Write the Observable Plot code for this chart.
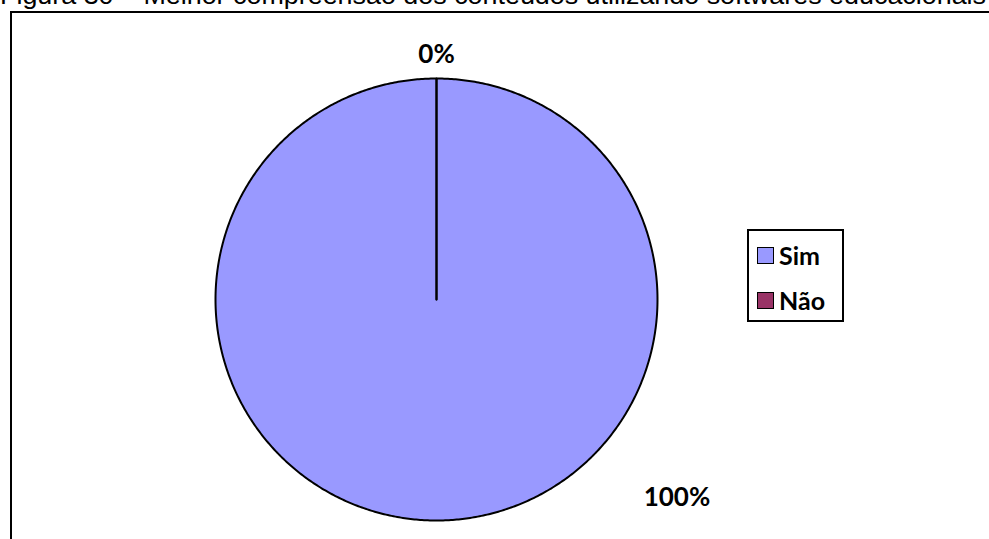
<!DOCTYPE html>
<html>
<head>
<meta charset="utf-8">
<script src="https://cdn.jsdelivr.net/npm/d3@7"></script>
<script src="https://cdn.jsdelivr.net/npm/@observablehq/plot@0.6"></script>
<style>
  html, body { margin: 0; padding: 0; background: #fff; overflow: hidden; }
  #wrap { position: relative; width: 989px; height: 539px; overflow: hidden; }
  #title { position: absolute; left: 0; top: -19px; font-family: "Liberation Sans", Arial, sans-serif; font-size: 25px; white-space: nowrap; color: #000; transform: scaleX(1.075); transform-origin: 0 0; }
  #frame { position: absolute; left: 10px; top: 11px; width: 1100px; height: 700px; border: 2px solid #000; box-sizing: border-box; }
  #chart { position: absolute; left: 0; top: 0; }
  #legend { position: absolute; left: 747px; top: 229px; width: 97px; height: 93px; border: 2px solid #000; box-sizing: border-box; background: #fff;
    font-family: Lato, "Open Sans", sans-serif; font-weight: bold; font-size: 25px; }
  .item { position: absolute; left: 8px; display: flex; align-items: center; height: 24px; }
  .sw { width: 15px; height: 15px; border: 1.5px solid #000; margin-right: 5px; }
</style>
</head>
<body>
<div id="wrap">
  <div id="title">Figura 30 – Melhor compreensão dos conteúdos utilizando softwares educacionais</div>
  <div id="frame"></div>
  <div id="chart"></div>
  <div id="legend"></div>
</div>
<script>
const categories = ["Sim", "Não"];
const values = [100, 0];
const labels = ["100%", "0%"];
const colors = ["#9999FF", "#993366"];

// layout
const W = 989, H = 539, cx = 436, cy = 299, R = 221;
const labelPlacement = { "Sim": { angle: 129.5, radius: 1.41 }, "Não": { angle: 0, radius: 1.11 } };

const slices = d3.pie().sort(null).value(d => d.value)(categories.map((c, i) => ({ category: c, value: values[i], label: labels[i], color: colors[i] })));

const pts = [];
for (const s of slices) {
  pts.push({ category: s.data.category, x: 0, y: 0 });
  const n = Math.max(1, Math.ceil((s.endAngle - s.startAngle) / (Math.PI / 360)));
  for (let k = 0; k <= n; k++) {
    const a = s.startAngle + (s.endAngle - s.startAngle) * k / n;
    pts.push({ category: s.data.category, x: Math.sin(a), y: Math.cos(a) });
  }
}
const labelData = slices.map(s => {
  const p = labelPlacement[s.data.category];
  const a = p.angle * Math.PI / 180;
  return { text: s.data.label, x: p.radius * Math.sin(a), y: p.radius * Math.cos(a) };
});

const plot = Plot.plot({
  width: W, height: H,
  margin: 0,
  x: { domain: [-1, 1], range: [cx - R, cx + R], axis: null },
  y: { domain: [-1, 1], range: [cy + R, cy - R], axis: null },
  style: { background: "transparent", overflow: "visible" },
  marks: categories.map((c, i) =>
    Plot.line(pts.filter(d => d.category === c), { x: "x", y: "y", curve: "linear-closed", fill: colors[i], stroke: "#000", strokeWidth: 2 })
  ).concat([
    Plot.text(labelData, { x: "x", y: "y", text: "text", fontFamily: "Lato, sans-serif", fontWeight: "bold", fontSize: 26, fill: "#000" })
  ])
});
document.getElementById("chart").appendChild(plot);

const legend = document.getElementById("legend");
categories.forEach((c, i) => {
  const it = document.createElement("div");
  it.className = "item";
  it.style.top = (i === 0 ? 12 : 57) + "px";
  it.innerHTML = `<div class="sw" style="background:${colors[i]}"></div><span>${c}</span>`;
  legend.appendChild(it);
});
</script>
</body>
</html>
